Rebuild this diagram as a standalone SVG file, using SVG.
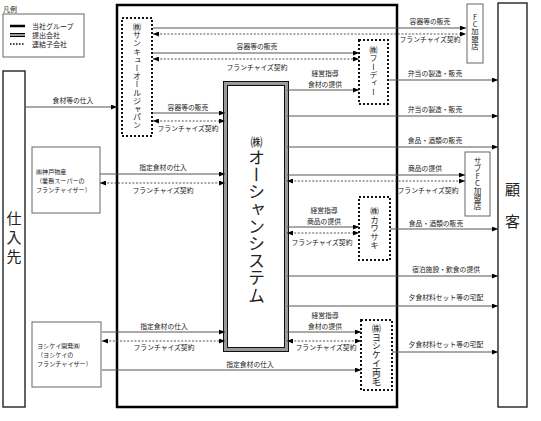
<svg xmlns="http://www.w3.org/2000/svg" width="541" height="421" viewBox="0 0 541 421">
<defs>
<style>
text{font-family:"Noto Sans CJK JP","Noto Sans",sans-serif;fill:#222}
.lbl{font-size:6.8px;text-anchor:middle}
.sm{font-size:7px}
.bx{font-size:6.1px}
.v{writing-mode:vertical-rl;text-orientation:upright}
.ln{stroke:#555;stroke-width:1;fill:none}
.dt{stroke-dasharray:2 1.6}
.plain{fill:#fff;stroke:#666;stroke-width:1}
.dark{fill:#fff;stroke:#222;stroke-width:1.4}
.dot{fill:#fff;stroke:#111;stroke-width:2;stroke-dasharray:2 2}
</style>
<marker id="ah" markerUnits="userSpaceOnUse" markerWidth="6" markerHeight="5" refX="6" refY="2.5" orient="auto-start-reverse">
<path d="M0,0 L6,2.5 L0,5 z" fill="#000"/>
</marker>
</defs>
<rect width="541" height="421" fill="#fff"/>

<g id="legend">
<text x="3" y="12" class="sm">凡例</text>
<rect x="3" y="14" width="81" height="43" class="plain"/>
<line x1="10" y1="26" x2="25" y2="26" stroke="#000" stroke-width="2.5"/>
<line x1="10" y1="35" x2="25" y2="35" stroke="#000" stroke-width="4"/>
<line x1="10" y1="35" x2="25" y2="35" stroke="#999" stroke-width="2"/>
<line x1="10" y1="44" x2="25" y2="44" stroke="#000" stroke-width="1.5" stroke-dasharray="1.5 1.5"/>
<text x="32" y="29" class="sm">当社グループ</text>
<text x="32" y="38" class="sm">提出会社</text>
<text x="32" y="47" class="sm">連結子会社</text>
</g>

<g id="group">
<rect x="117" y="5" width="280" height="402" fill="none" stroke="#000" stroke-width="2.5"/>
</g>

<g id="suppliers">
<rect x="3" y="71" width="22" height="336" class="dark"/>
<text x="14" y="224" font-size="15" text-anchor="middle">仕</text>
<text x="14" y="243" font-size="15" text-anchor="middle">入</text>
<text x="14" y="262" font-size="15" text-anchor="middle">先</text>
</g>

<g id="customers">
<rect x="498" y="3" width="29" height="404" class="dark"/>
<text x="512.5" y="195" font-size="15" text-anchor="middle">顧</text>
<text x="512.5" y="227" font-size="15" text-anchor="middle">客</text>
</g>

<g id="kobe">
<rect x="32" y="147" width="68" height="66" class="plain"/>
<text x="36" y="174" class="bx">㈱神戸物産</text>
<text x="36" y="182.8" class="bx">（業務スーパーの</text>
<text x="36" y="191.6" class="bx">フランチャイザー）</text>
</g>

<g id="yoshikei-dev">
<rect x="32" y="322" width="69" height="65" class="plain"/>
<text x="37" y="348" class="bx">ヨシケイ開発㈱</text>
<text x="37" y="356.8" class="bx">（ヨシケイの</text>
<text x="37" y="365.6" class="bx">フランチャイザー）</text>
</g>

<g id="fc">
<rect x="467" y="4" width="16" height="59" class="plain"/>
<text x="475" y="13" class="v" font-size="7.4">FC加盟店</text>
</g>

<g id="subfc">
<rect x="465" y="152" width="25" height="64" class="plain"/>
<text x="477.5" y="157" class="v" font-size="7.6">サブFC加盟店</text>
</g>

<g id="sankyu">
<rect x="122" y="18" width="30" height="118" class="dot"/>
<text x="137" y="23" class="v" font-size="8" letter-spacing="0.2">㈱サンキューオールジャパン</text>
</g>

<g id="foody">
<rect x="359" y="40" width="29" height="64" class="dot"/>
<text x="373.5" y="46" class="v" font-size="8" letter-spacing="0.3">㈱フーディー</text>
</g>

<g id="kawasaki">
<rect x="359" y="197" width="31" height="63" class="dot"/>
<text x="374.5" y="207" class="v" font-size="8.5">㈱カワサキ</text>
</g>

<g id="yoshikei-ryomo">
<rect x="361" y="320" width="31" height="70" class="dot"/>
<text x="376.5" y="324" class="v" font-size="8.8">㈱ヨシケイ両毛</text>
</g>

<g id="ocean">
<rect x="225.5" y="83.5" width="61" height="266" fill="#fff" stroke="#000" stroke-width="5"/>
<rect x="225.5" y="83.5" width="61" height="266" fill="none" stroke="#9a9a9a" stroke-width="3.2"/>
<text x="256.5" y="147" font-size="12" text-anchor="middle">㈱</text>
<text x="256.5" y="149" class="v" font-size="17" letter-spacing="0.2">オーシャンシステム</text>
</g>

<g id="connectors">
<path class="ln" d="M26,107H117" marker-end="url(#ah)"/>
<path class="ln" d="M153,28H466" marker-end="url(#ah)"/>
<path class="ln dt" d="M153,34H466" marker-start="url(#ah)" marker-end="url(#ah)"/>
<path class="ln" d="M153,53H359" marker-end="url(#ah)"/>
<path class="ln dt" d="M153,59H359" marker-start="url(#ah)" marker-end="url(#ah)"/>
<path class="ln" d="M153,113H225" marker-end="url(#ah)"/>
<path class="ln dt" d="M153,121H225" marker-start="url(#ah)" marker-end="url(#ah)"/>
<path class="ln" d="M287,90H359" marker-end="url(#ah)"/>
<path class="ln" d="M388,80H498" marker-end="url(#ah)"/>
<path class="ln" d="M287,116H498" marker-end="url(#ah)"/>
<path class="ln" d="M287,147H498" marker-end="url(#ah)"/>
<path class="ln" d="M287,175H465" marker-end="url(#ah)"/>
<path class="ln dt" d="M287,181H465" marker-start="url(#ah)" marker-end="url(#ah)"/>
<path class="ln" d="M100,174H225" marker-end="url(#ah)"/>
<path class="ln dt" d="M100,183H225" marker-start="url(#ah)" marker-end="url(#ah)"/>
<path class="ln" d="M287,227H359" marker-end="url(#ah)"/>
<path class="ln dt" d="M287,233H359" marker-start="url(#ah)" marker-end="url(#ah)"/>
<path class="ln" d="M390,229H498" marker-end="url(#ah)"/>
<path class="ln" d="M287,276H498" marker-end="url(#ah)"/>
<path class="ln" d="M287,306H498" marker-end="url(#ah)"/>
<path class="ln" d="M287,332H361" marker-end="url(#ah)"/>
<path class="ln dt" d="M287,341H361" marker-start="url(#ah)" marker-end="url(#ah)"/>
<path class="ln" d="M392,352H498" marker-end="url(#ah)"/>
<path class="ln" d="M102,332H225" marker-end="url(#ah)"/>
<path class="ln dt" d="M102,341H225" marker-start="url(#ah)" marker-end="url(#ah)"/>
<path class="ln" d="M102,370H361" marker-end="url(#ah)"/>

<text class="lbl" x="73" y="103">食材等の仕入</text>
<text class="lbl" x="430" y="24">容器等の販売</text>
<text class="lbl" x="430" y="42">フランチャイズ契約</text>
<text class="lbl" x="257" y="49">容器等の販売</text>
<text class="lbl" x="257" y="70">フランチャイズ契約</text>
<text class="lbl" x="188" y="110">容器等の販売</text>
<text class="lbl" x="188" y="131">フランチャイズ契約</text>
<text class="lbl" x="325" y="76">経営指導</text>
<text class="lbl" x="325" y="87">食材の提供</text>
<text class="lbl" x="435" y="76">弁当の製造・販売</text>
<text class="lbl" x="435" y="112">弁当の製造・販売</text>
<text class="lbl" x="435" y="143">食品・酒類の販売</text>
<text class="lbl" x="425" y="171">商品の提供</text>
<text class="lbl" x="428" y="193">フランチャイズ契約</text>
<text class="lbl" x="163" y="170">指定食材の仕入</text>
<text class="lbl" x="163" y="193">フランチャイズ契約</text>
<text class="lbl" x="324" y="213">経営指導</text>
<text class="lbl" x="324" y="224">商品の提供</text>
<text class="lbl" x="322" y="245">フランチャイズ契約</text>
<text class="lbl" x="436" y="226">食品・酒類の販売</text>
<text class="lbl" x="446" y="272">宿泊施設・飲食の提供</text>
<text class="lbl" x="446" y="300">夕食材料セット等の宅配</text>
<text class="lbl" x="325" y="318">経営指導</text>
<text class="lbl" x="325" y="329">食材の提供</text>
<text class="lbl" x="326" y="350">フランチャイズ契約</text>
<text class="lbl" x="446" y="347">夕食材料セット等の宅配</text>
<text class="lbl" x="164" y="329">指定食材の仕入</text>
<text class="lbl" x="164" y="350">フランチャイズ契約</text>
<text class="lbl" x="250" y="367">指定食材の仕入</text>
</g>
</svg>
